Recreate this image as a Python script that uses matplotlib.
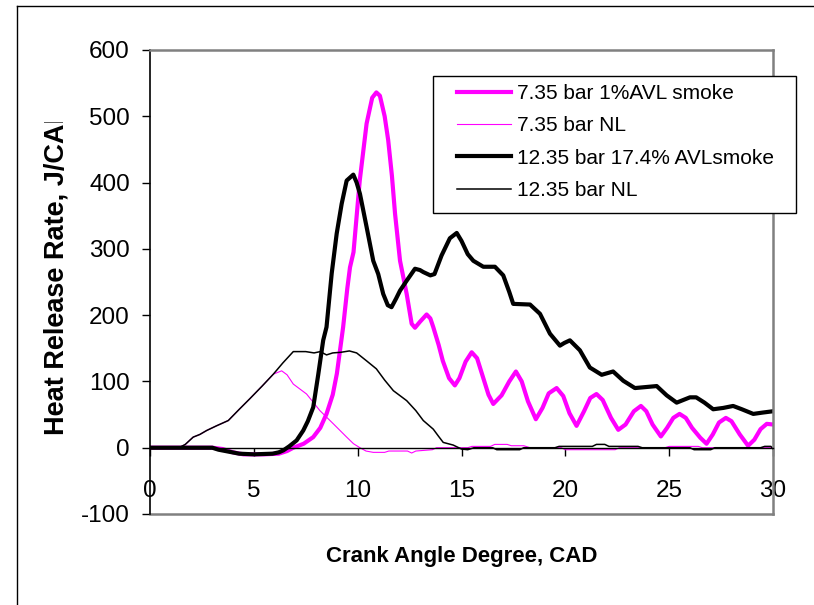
import matplotlib
matplotlib.use("Agg")
import matplotlib.pyplot as plt
from matplotlib.lines import Line2D
from matplotlib.patches import Rectangle
from matplotlib.transforms import Bbox, TransformedBbox

plt.rcParams['font.family'] = ['Liberation Sans', 'DejaVu Sans']
plt.rcParams['axes.unicode_minus'] = False

# === data ===
mag_thick_x = [0, 3.0, 3.5, 4.0, 4.5, 5.5, 6.2, 6.6, 6.9, 7.4, 7.86, 8.2, 8.5, 8.8, 9.0, 9.3, 9.5, 9.63, 9.8,
               10.1, 10.43, 10.7, 10.9, 11.07, 11.3, 11.47, 11.65, 11.8, 12.04, 12.36, 12.6, 12.76, 13.0, 13.32,
               13.5, 13.64, 13.9, 14.1, 14.4, 14.68, 14.9, 15.2, 15.49, 15.75, 16.0, 16.3, 16.53, 16.93, 17.3,
               17.62, 17.9, 18.2, 18.58, 18.9, 19.2, 19.58, 19.9, 20.2, 20.54, 20.9, 21.2, 21.5, 21.8, 22.2,
               22.55, 22.9, 23.3, 23.64, 23.9, 24.2, 24.6, 24.9, 25.2, 25.5, 25.8, 26.1, 26.5, 26.8, 27.1, 27.4,
               27.73, 28.0, 28.4, 28.8, 29.1, 29.4, 29.7, 30]
mag_thick_y = [0, 0, -2, -7, -10, -10, -9, -5, 0, 6, 16, 30, 51, 80, 112, 182, 240, 272, 295,
               403, 489, 528, 536, 531, 500, 464, 410, 353, 282, 232, 187, 181, 190, 201,
               195, 182, 155, 131, 105, 94, 105, 130, 144, 135, 110, 80, 66, 79, 100,
               115, 100, 70, 43, 60, 82, 90, 78, 52, 33, 55, 75, 81, 72, 45,
               27, 35, 55, 63, 55, 35, 17, 30, 45, 51, 45, 30, 15, 6, 20, 38,
               45, 40, 20, 3, 12, 28, 36, 35]

mag_thin_x = [0, 1.4, 1.7, 2.08, 2.4, 2.73, 3.2, 3.77, 4.3, 4.81, 5.4, 5.94, 6.34, 6.6, 6.9, 7.54, 8.18, 8.83,
              9.47, 9.8, 10.11, 10.4, 10.75, 11.3, 11.5, 12.4, 12.6, 12.8, 13.6, 13.8, 15.3, 15.5, 16.4, 16.6,
              17.2, 17.4, 18.0, 18.3, 19.8, 20.0, 22.4, 22.6, 24.8, 25.0, 26.4, 26.6, 30]
mag_thin_y = [0, 0, 5, 16, 20, 26, 33, 41, 58, 74, 93, 111, 116, 110, 96, 81, 56, 36,
              16, 6, 0, -5, -7, -7, -5, -5, -8, -5, -3, 0, 0, 2, 2, 5,
              5, 3, 3, 0, 0, -3, -3, 0, 0, 2, 2, 0, 0]

blk_thick_x = [0, 3.0, 3.3, 3.8, 4.3, 5.0, 5.9, 6.2, 6.42, 6.7, 7.06, 7.38, 7.6, 7.86, 8.1, 8.34, 8.5, 8.75,
               8.99, 9.23, 9.47, 9.79, 9.95, 10.11, 10.43, 10.75, 10.99, 11.23, 11.45, 11.63, 11.85, 12.04,
               12.36, 12.76, 13.0, 13.16, 13.5, 13.7, 14.04, 14.44, 14.77, 15.0, 15.3, 15.57, 16.05, 16.61,
               17.01, 17.3, 17.49, 18.3, 18.78, 19.26, 19.74, 19.95, 20.22, 20.7, 21.18, 21.75, 22.3, 22.79,
               23.35, 24.4, 24.88, 25.36, 26.0, 26.3, 26.7, 27.12, 27.6, 28.08, 28.5, 29.05, 29.5, 30]
blk_thick_y = [0, 0, -3, -6, -9, -10, -9, -7, -4, 2, 11, 26, 40, 61, 110, 162, 182, 263,
               323, 368, 403, 412, 400, 383, 333, 282, 262, 232, 215, 212, 225, 237,
               252, 270, 268, 265, 260, 262, 290, 316, 324, 312, 292, 282, 273, 273,
               260, 235, 217, 216, 202, 172, 154, 158, 162, 147, 121, 110, 115, 101,
               90, 93, 79, 68, 76, 76, 68, 58, 60, 63, 58, 51, 53, 55]

blk_thin_x = [0, 1.4, 1.7, 2.08, 2.4, 2.73, 3.2, 3.77, 4.3, 4.81, 5.4, 5.94, 6.4, 6.9, 7.5, 7.9, 8.2, 8.5,
              8.8, 9.2, 9.6, 9.95, 10.43, 10.9, 11.3, 11.72, 12.36, 12.8, 13.16, 13.64, 13.9, 14.12, 14.6,
              15.0, 15.3, 15.6, 16.5, 16.7, 17.8, 18.0, 19.5, 19.7, 21.3, 21.5, 21.9, 22.1, 23.5, 23.7,
              26.0, 26.2, 27.0, 27.2, 29.4, 29.6, 29.9, 30]
blk_thin_y = [0, 0, 5, 16, 20, 26, 33, 41, 58, 74, 93, 111, 128, 145, 145, 143, 145, 140,
              143, 144, 146, 143, 131, 119, 102, 86, 71, 56, 41, 28, 17, 8, 4,
              -2, -3, 0, 0, -3, -3, 0, 0, 2, 2, 5, 5, 2, 2, 0,
              0, -3, -3, 0, 0, 2, 2, -2]

labels = ["7.35 bar 1%AVL smoke", "7.35 bar NL", "12.35 bar 17.4% AVLsmoke", "12.35 bar NL"]
y_ticks = [-100, 0, 100, 200, 300, 400, 500, 600]
x_ticks = [0, 5, 10, 15, 20, 25, 30]

W, H = 814, 605
MAG = '#ff00ff'
GRAY = '#808080'

fig = plt.figure(figsize=(W / 100, H / 100), dpi=100)
ax = fig.add_axes([150 / W, 1 - 514 / H, (773 - 150) / W, (514 - 50) / H])

ax.plot(mag_thick_x, mag_thick_y, color=MAG, lw=3.0, label=labels[0])
ax.plot(mag_thin_x, mag_thin_y, color=MAG, lw=0.8, label=labels[1])
ax.plot(blk_thick_x, blk_thick_y, color='black', lw=3.0, label=labels[2])
ax.plot(blk_thin_x, blk_thin_y, color='black', lw=1.1, label=labels[3])

ax.set_xlim(0, 30)
ax.set_ylim(-100, 600)
ax.set_xticks(x_ticks)
ax.set_yticks(y_ticks)

# excel style: x axis crosses at 0, grey plot-area border
ax.spines['bottom'].set_position(('data', 0))
ax.spines['bottom'].set_color('black')
ax.spines['bottom'].set_linewidth(1)
ax.spines['left'].set_color('black')
ax.spines['left'].set_linewidth(1.2)
for s in ['top', 'right']:
    ax.spines[s].set_color(GRAY)
    ax.spines[s].set_linewidth(1.8)
ax.plot([0, 1], [0, 0], transform=ax.transAxes, color=GRAY, lw=1.8, clip_on=False)

ax.tick_params(axis='x', direction='out', length=5.5, width=1, pad=17.5, labelsize=17.5)
ax.tick_params(axis='y', direction='out', length=6, width=1, pad=8.5, labelsize=17.5)

ax.set_xlabel("Crank Angle Degree, CAD", fontsize=16, fontweight='bold')
ax.xaxis.set_label_coords(0.5, -0.07)

# y title is cut off at the top in the original
ylab = fig.text(57 / W, 1 - 435 / H, "Heat Release Rate, J/CAD", rotation=90, ha='center', va='bottom',
                fontsize=19.5, fontweight='bold')
ylab.set_clip_box(TransformedBbox(Bbox.from_extents(0, 0, 1, 1 - 122 / H), fig.transFigure))
ylab.set_clip_on(True)

# legend box sits partly outside the plot area
box = Rectangle((433 / W, 1 - 213 / H), (796 - 433) / W, (213 - 76) / H, transform=fig.transFigure,
                facecolor='white', edgecolor='black', lw=1, zorder=4)
fig.add_artist(box)
h, l = ax.get_legend_handles_labels()
leg = fig.legend(h, l, loc='upper left', bbox_to_anchor=(457 / W, 1 - 84 / H), frameon=False,
                 fontsize=15, handlelength=2.58, handletextpad=0.3, labelspacing=0.64, borderpad=0,
                 borderaxespad=0)
leg.set_zorder(5)

# outer chart frame
fig.add_artist(Line2D([17 / W, 1], [1 - 6 / H, 1 - 6 / H], transform=fig.transFigure, color='black', lw=1))
fig.add_artist(Line2D([17 / W, 17 / W], [0, 1 - 6 / H], transform=fig.transFigure, color='black', lw=1))

fig.savefig("out.png", dpi=100)
